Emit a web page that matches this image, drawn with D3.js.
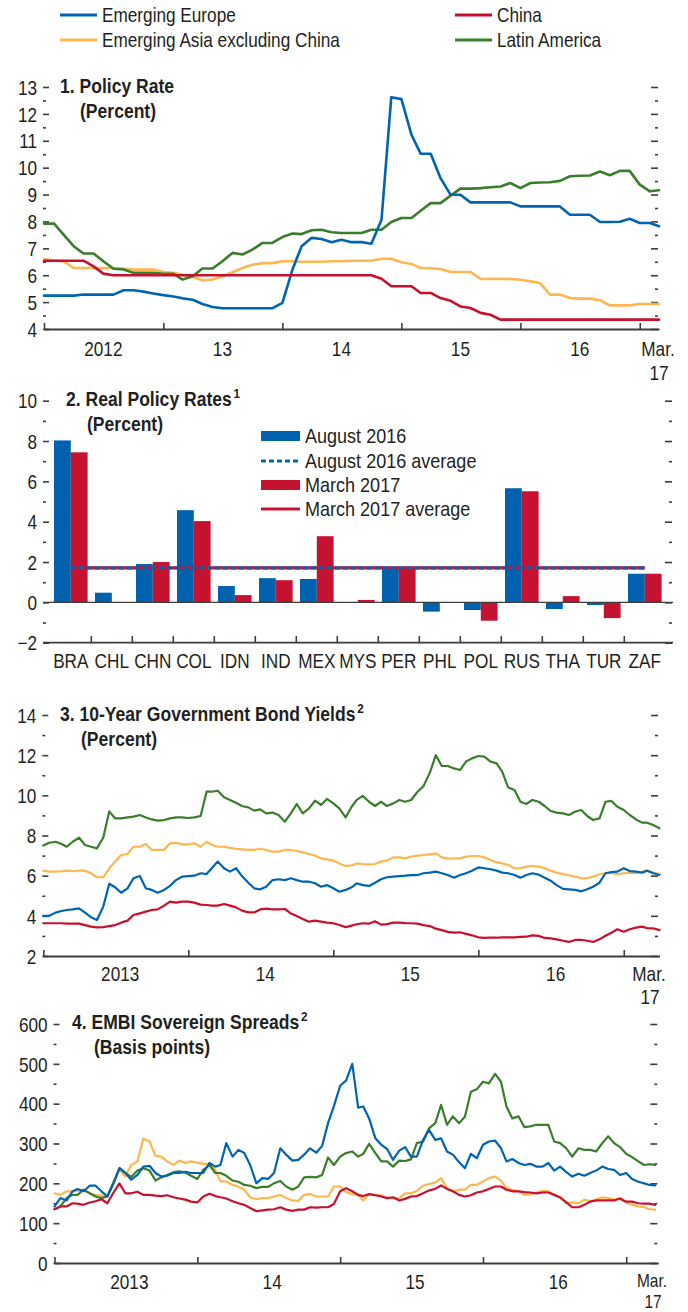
<!DOCTYPE html>
<html><head><meta charset="utf-8">
<script src="https://cdn.jsdelivr.net/npm/d3@7"></script>
<style>
body{margin:0;background:#fff;}
svg text{font-family:"Liberation Sans Narrow","Arial Narrow","Liberation Sans",Arial,sans-serif;fill:#231f20;}
</style></head><body>
<svg id="c" width="688" height="1312"></svg>
<script>
// ---------------- DATA ----------------
const seriesNames = ["Emerging Europe","Emerging Asia excluding China","China","Latin America"];

// Panel 1: Policy rate, monthly Jan 2012 - Mar 2017 (percent)
const p1Europe = [5.24,5.24,5.24,5.24,5.28,5.28,5.28,5.28,5.44,5.44,5.39,5.32,5.26,5.21,5.14,5.09,4.93,4.82,4.77,4.77,4.77,4.77,4.77,4.77,4.97,6.21,7.08,7.39,7.35,7.23,7.32,7.23,7.23,7.17,8.06,12.62,12.55,11.22,10.52,10.52,9.61,8.99,8.99,8.71,8.71,8.71,8.71,8.71,8.56,8.56,8.56,8.56,8.56,8.25,8.25,8.25,7.98,7.98,7.99,8.1,7.94,7.94,7.82];
const p1Asia = [6.6,6.55,6.52,6.27,6.27,6.27,6.27,6.27,6.25,6.21,6.21,6.21,6.12,6.09,6.02,5.93,5.81,5.84,5.96,6.11,6.27,6.39,6.45,6.45,6.52,6.52,6.5,6.5,6.5,6.52,6.52,6.54,6.54,6.54,6.61,6.61,6.48,6.42,6.27,6.26,6.23,6.12,6.12,6.12,5.86,5.86,5.86,5.86,5.83,5.77,5.71,5.28,5.28,5.15,5.13,5.13,5.07,4.88,4.88,4.88,4.93,4.93,4.93];
const p1China = [6.54,6.54,6.54,6.54,6.54,6.33,6.06,6.0,6.0,6.0,6.0,6.0,6.0,6.0,6.0,6.0,6.0,6.0,6.0,6.0,6.0,6.0,6.0,6.0,6.0,6.0,6.0,6.0,6.0,6.0,6.0,6.0,6.0,6.0,5.87,5.59,5.59,5.59,5.34,5.34,5.15,5.05,4.84,4.78,4.6,4.53,4.35,4.35,4.35,4.35,4.35,4.35,4.35,4.35,4.35,4.35,4.35,4.35,4.35,4.35,4.35,4.35,4.35];
const p1Latam = [7.92,7.92,7.51,7.08,6.81,6.81,6.52,6.24,6.21,6.09,6.09,6.09,6.05,6.05,5.84,5.96,6.25,6.25,6.52,6.83,6.77,6.95,7.2,7.2,7.42,7.55,7.53,7.67,7.69,7.6,7.57,7.57,7.57,7.69,7.69,7.98,8.13,8.13,8.4,8.68,8.68,8.96,9.22,9.22,9.24,9.27,9.3,9.43,9.24,9.43,9.45,9.46,9.51,9.68,9.7,9.71,9.86,9.72,9.88,9.88,9.37,9.12,9.16];
const p1YearLabels = ["2012","13","14","15","16"];

// Panel 2: Real policy rates (percent)
const p2Categories = ["BRA","CHL","CHN","COL","IDN","IND","MEX","MYS","PER","PHL","POL","RUS","THA","TUR","ZAF"];
const p2Aug2016 = [8.03,0.48,1.9,4.57,0.81,1.2,1.16,0.0,1.75,-0.46,-0.38,5.66,-0.33,-0.13,1.42];
const p2Mar2017 = [7.44,0.0,2.0,4.03,0.36,1.1,3.28,0.12,1.72,0.0,-0.91,5.51,0.31,-0.78,1.42];
const p2Legend = ["August 2016","August 2016 average","March 2017","March 2017 average"];

// Panel 3: 10-year government bond yields, semi-monthly from Jan 2013 (percent)
const p3Europe = [4.0,4.0,4.16,4.24,4.29,4.32,4.37,4.16,3.93,3.79,4.46,5.6,5.42,5.15,5.37,5.87,5.98,5.37,5.29,5.15,5.29,5.49,5.78,5.95,5.98,6.0,6.12,6.08,6.37,6.7,6.37,6.2,6.37,5.98,5.65,5.37,5.32,5.45,5.78,5.82,5.78,5.87,5.78,5.7,5.7,5.62,5.45,5.53,5.37,5.2,5.29,5.42,5.62,5.53,5.49,5.65,5.82,5.92,5.95,5.98,6.0,6.03,6.03,6.12,6.15,6.2,6.12,6.03,5.9,6.03,6.12,6.25,6.41,6.37,6.32,6.25,6.15,6.12,6.03,5.9,6.03,6.12,6.05,5.9,5.75,5.53,5.34,5.32,5.29,5.22,5.32,5.45,5.65,6.12,6.18,6.2,6.37,6.23,6.2,6.15,6.25,6.12,6.03];
const p3Asia = [6.25,6.2,6.2,6.22,6.25,6.22,6.25,6.25,6.12,5.92,5.92,6.37,6.7,7.03,7.08,7.44,7.44,7.58,7.28,7.28,7.28,7.61,7.64,7.56,7.56,7.61,7.44,7.69,7.53,7.44,7.44,7.38,7.34,7.31,7.28,7.28,7.34,7.28,7.2,7.2,7.28,7.28,7.23,7.16,7.08,7.0,6.86,6.81,6.75,6.61,6.48,6.51,6.61,6.58,6.56,6.58,6.7,6.75,6.91,6.91,6.86,6.95,7.0,7.03,7.06,7.11,6.91,6.85,6.86,6.86,6.95,6.98,6.98,6.91,6.78,6.66,6.61,6.53,6.37,6.37,6.45,6.48,6.45,6.37,6.25,6.15,6.08,6.02,5.95,5.87,5.87,5.95,6.07,6.12,6.12,6.08,6.12,6.15,6.12,6.2,6.25,6.15,6.08];
const p3China = [3.63,3.63,3.63,3.63,3.61,3.61,3.61,3.54,3.46,3.43,3.44,3.49,3.54,3.66,3.76,4.04,4.12,4.21,4.29,4.32,4.51,4.71,4.66,4.71,4.71,4.66,4.56,4.54,4.51,4.51,4.59,4.51,4.42,4.26,4.17,4.17,4.32,4.36,4.32,4.32,4.34,4.12,3.99,3.84,3.71,3.76,3.71,3.66,3.63,3.54,3.44,3.51,3.58,3.63,3.61,3.73,3.56,3.59,3.66,3.66,3.64,3.63,3.61,3.54,3.49,3.36,3.29,3.2,3.16,3.18,3.1,3.03,2.93,2.9,2.91,2.91,2.93,2.93,2.93,2.95,2.96,3.03,3.0,2.9,2.88,2.83,2.76,2.7,2.8,2.81,2.76,2.7,2.83,3.01,3.16,3.33,3.21,3.33,3.41,3.46,3.39,3.38,3.29];
const p3Latam = [7.5,7.64,7.69,7.58,7.44,7.69,7.89,7.53,7.44,7.36,7.9,9.2,8.85,8.85,8.9,8.94,9.02,8.9,8.8,8.74,8.77,8.85,8.9,8.9,8.87,8.9,8.97,10.18,10.18,10.23,9.9,9.77,9.63,9.47,9.4,9.24,9.3,9.1,9.14,9.02,8.69,9.1,9.57,9.1,9.35,9.73,9.52,9.82,9.6,9.35,8.9,9.43,9.77,9.97,9.68,9.47,9.68,9.47,9.6,9.77,9.68,9.77,10.18,10.46,11.13,12.0,11.46,11.46,11.34,11.26,11.68,11.84,11.96,11.93,11.68,11.59,11.18,10.4,10.27,9.68,9.57,9.77,9.68,9.47,9.22,9.14,9.1,9.02,9.19,9.27,8.97,8.77,8.85,9.68,9.72,9.43,9.27,9.02,8.8,8.64,8.64,8.52,8.36];
const p3YearLabels = ["2013","14","15","16"];

// Panel 4: EMBI sovereign spreads, semi-monthly from Jan 2013 (basis points)
const p4Europe = [142,163,157,180,186,180,194,194,180,167,200,238,226,209,221,242,244,226,217,219,226,226,229,226,226,226,251,242,246,301,267,284,276,246,200,213,211,226,288,272,257,259,272,288,277,294,351,394,445,458,500,390,393,363,313,297,286,259,282,291,267,267,309,334,309,313,280,272,253,238,274,263,297,305,307,288,255,261,251,246,249,242,242,251,232,242,228,217,224,219,226,232,242,236,234,221,226,211,204,200,196,195];
const p4Asia = [175,171,180,180,181,184,175,171,169,167,205,234,217,246,255,312,305,269,267,255,246,257,251,255,252,249,249,234,205,205,196,192,184,165,160,163,163,167,171,163,157,156,171,173,167,167,167,192,192,178,173,171,157,173,171,170,163,163,163,175,175,181,194,198,202,213,188,180,184,184,196,196,205,213,217,207,188,184,180,171,173,177,181,180,171,163,150,152,150,159,155,160,165,163,159,162,152,146,142,140,135,134];
const p4China = [135,142,142,150,149,146,152,155,160,150,177,200,175,175,179,171,171,169,168,170,165,162,159,154,152,167,174,168,165,162,155,150,146,138,130,132,134,135,140,134,131,134,134,140,139,140,140,148,180,188,180,171,168,173,170,167,163,165,157,161,167,168,175,182,186,195,186,180,171,167,170,177,180,186,192,192,184,180,180,178,177,175,177,177,171,165,152,140,140,146,154,157,157,157,157,162,154,154,150,149,149,146];
const p4Latam = [135,142,163,171,171,184,175,167,163,167,202,238,226,216,232,238,232,207,215,221,228,230,227,219,211,234,246,226,226,219,207,204,196,194,188,191,191,200,206,192,184,192,215,216,215,221,265,246,267,276,280,267,274,299,276,255,255,242,257,256,260,301,305,338,351,397,347,368,351,368,430,436,455,451,475,455,393,363,368,341,343,347,347,347,305,301,288,267,288,284,284,280,301,318,301,291,274,266,255,246,248,246];
const p4YearLabels = ["2013","14","15","16"];

// ---------------- STYLE ----------------
const COL = {eu:"#0064b1", asia:"#fdb750", china:"#c8102e", latam:"#3a7d2c"};
const BAR = {aug:"#0062ae", mar:"#c41230"};
const AX = "#3d3d3d";
const SX = 0.86;           // horizontal condensing of the sans font
const FS = 19.5;
const svg = d3.select("#c");

function T(x, y, str, o={}){
  const t = svg.append("text")
    .attr("transform",`translate(${x},${y}) scale(${o.sx||SX},1)`)
    .attr("font-size",o.size||FS)
    .attr("text-anchor",o.anchor||"start");
  if (o.weight) t.attr("font-weight",o.weight);
  if (o.dy) t.attr("dy",o.dy);
  if (str !== null) t.text(str);
  return t;
}

// Legend
const legend = [
  {name:seriesNames[0], c:COL.eu, x:60, y:15},
  {name:seriesNames[1], c:COL.asia, x:60, y:40},
  {name:seriesNames[2], c:COL.china, x:455, y:15},
  {name:seriesNames[3], c:COL.latam, x:455, y:40}];
legend.forEach(d=>{
  svg.append("line").attr("x1",d.x).attr("x2",d.x+37).attr("y1",d.y).attr("y2",d.y)
    .attr("stroke",d.c).attr("stroke-width",3);
  T(d.x+42, d.y, d.name, {dy:"0.36em", size:20});
});

function title(x, y, main, sup, sub, subx){
  const t = T(x, y, null, {weight:"bold", size:19.5, sx:0.9});
  t.append("tspan").text(main);
  if (sup) t.append("tspan").attr("font-size",13).attr("dy",-8).attr("dx",2).text(sup);
  T(subx, y+25, sub, {weight:"bold", size:19.5, sx:0.9});
}

function yAxes(y, xL, xR, majors, minors, fmt){
  const gl = svg.append("g").attr("transform",`translate(${xL},0)`)
    .call(d3.axisLeft(y).tickValues(majors).tickSizeInner(-6).tickSizeOuter(0).tickPadding(7).tickFormat(fmt));
  const gm = svg.append("g").attr("transform",`translate(${xL},0)`)
    .call(d3.axisLeft(y).tickValues(minors).tickSizeInner(-3).tickSizeOuter(0).tickFormat(""));
  const gr = svg.append("g").attr("transform",`translate(${xR},0)`)
    .call(d3.axisRight(y).tickValues(majors).tickSizeInner(-7).tickSizeOuter(0).tickFormat(""));
  const grm = svg.append("g").attr("transform",`translate(${xR},0)`)
    .call(d3.axisRight(y).tickValues(minors).tickSizeInner(-3).tickSizeOuter(0).tickFormat(""));
  [gl,gm,gr,grm].forEach(g=>{
    g.select(".domain").remove();
    g.selectAll(".tick line").attr("stroke",AX).attr("stroke-width",1.6).attr("transform","translate(-1,0)");
    g.attr("font-family",null).attr("font-size",null);
  });
  gl.selectAll(".tick text").attr("font-size",FS+0.5).attr("fill","#231f20")
    .attr("x",-8).attr("dy","0.36em").attr("transform",`scale(${SX},1)`);
}

function xAxis(x, yPos, yearDates){
  const g = svg.append("g").attr("transform",`translate(0,${yPos})`)
    .call(d3.axisBottom(x).tickValues(yearDates).tickSizeInner(-6).tickSizeOuter(0).tickFormat(""));
  g.select(".domain").attr("stroke",AX).attr("stroke-width",1.8);
  g.selectAll(".tick line").attr("stroke",AX).attr("stroke-width",1.6);
}

function lines(x, y, dates, series, w){
  const gen = d3.line().x((d,i)=>x(dates[i])).y(d=>y(d)).curve(d3.curveLinear);
  series.forEach(s=>{
    svg.append("path").datum(s.v).attr("d",gen).attr("fill","none")
      .attr("stroke",s.c).attr("stroke-width",w).attr("stroke-linejoin","round").attr("stroke-linecap","round");
  });
}

function xLabels(x, yBase, labels, years, off, marX, marY2, marY1, marSize){
  labels.forEach((l,i)=>T(x(new Date(years[i],6,1))+off, yBase, l, {anchor:"middle", size:FS+0.5}));
  T(marX, marY1||yBase, "Mar.", {anchor:"middle", size:marSize||FS+0.5});
  T(marX+1, marY2, "17", {anchor:"middle", size:marSize||FS+0.5});
}

const fmtNum = d => d < 0 ? "\u2212" + Math.abs(d) : String(d);

// ---------------- PANEL 1 ----------------
(function(){
  const dates = d3.timeMonth.range(new Date(2012,0,1), new Date(2017,3,1));
  const x = d3.scaleTime().domain([new Date(2012,0,1), new Date(2017,2,1)]).range([44,659]);
  const y = d3.scaleLinear().domain([4,13]).range([329,87]);
  yAxes(y, 44, 659, d3.range(4,14), d3.range(4.5,13,1), fmtNum);
  xAxis(x, 329, d3.timeYear.range(new Date(2012,0,1), new Date(2017,1,1)));
  lines(x, y, dates, [{v:p1Asia,c:COL.asia},{v:p1Latam,c:COL.latam},{v:p1Europe,c:COL.eu},{v:p1China,c:COL.china}], 2.6);
  xLabels(x, 356, p1YearLabels, [2012,2013,2014,2015,2016], 0, 658, 380);
  title(60, 93, "1. Policy Rate", null, "(Percent)", 80);
})();

// ---------------- PANEL 2 ----------------
(function(){
  const x0 = d3.scaleBand().domain(p2Categories).range([50.3,665.3]).paddingInner(0.18).paddingOuter(0.09);
  const x1 = d3.scaleBand().domain(["aug","mar"]).range([0,x0.bandwidth()]);
  const y = d3.scaleLinear().domain([-2,10]).range([642.7,400.7]);
  yAxes(y, 44, 673, d3.range(-2,11,2), d3.range(-1,10,2), fmtNum);
  const data = p2Categories.map((c,i)=>({c, aug:p2Aug2016[i], mar:p2Mar2017[i]}));
  const g = svg.append("g");
  data.forEach(d=>{
    [["aug",BAR.aug],["mar",BAR.mar]].forEach(([k,col])=>{
      const v = d[k];
      g.append("rect").attr("x",x0(d.c)+x1(k)).attr("width",x1.bandwidth())
        .attr("y",y(Math.max(0,v))).attr("height",Math.abs(y(v)-y(0))).attr("fill",col);
    });
  });
  svg.append("line").attr("x1",43).attr("x2",673).attr("y1",y(0)).attr("y2",y(0)).attr("stroke",AX).attr("stroke-width",1.2);
  const avgAug = d3.mean(p2Aug2016), avgMar = d3.mean(p2Mar2017);
  const xa = x0(p2Categories[0])+x0.bandwidth()/2, xb = x0(p2Categories[p2Categories.length-1])+x0.bandwidth()/2;
  svg.append("line").attr("x1",xa).attr("x2",xb).attr("y1",y(avgMar)).attr("y2",y(avgMar)).attr("stroke",BAR.mar).attr("stroke-width",3.2);
  svg.append("line").attr("x1",xa).attr("x2",xb).attr("y1",y(avgAug)).attr("y2",y(avgAug)).attr("stroke",COL.eu).attr("stroke-width",3.2).attr("stroke-dasharray","5,3");
  svg.append("line").attr("x1",43).attr("x2",673).attr("y1",642.7).attr("y2",642.7).attr("stroke",AX).attr("stroke-width",1.8);
  const step = x0.step();
  p2Categories.slice(1).forEach(c=>{
    const bx = x0(c) - step*x0.paddingInner()/2;
    svg.append("line").attr("x1",bx).attr("x2",bx).attr("y1",642.7).attr("y2",636).attr("stroke",AX).attr("stroke-width",1.6);
  });
  p2Categories.forEach(c=>T(x0(c)+x0.bandwidth()/2, 668, c, {anchor:"middle", size:FS+0.5}));
  const lx = 261, ys = [436, 461, 485, 509];
  svg.append("rect").attr("x",lx).attr("y",ys[0]-5).attr("width",39).attr("height",10).attr("fill",BAR.aug);
  svg.append("line").attr("x1",lx).attr("x2",lx+39).attr("y1",ys[1]).attr("y2",ys[1]).attr("stroke",COL.eu).attr("stroke-width",3.2).attr("stroke-dasharray","5,3");
  svg.append("rect").attr("x",lx).attr("y",ys[2]-5).attr("width",39).attr("height",10).attr("fill",BAR.mar);
  svg.append("line").attr("x1",lx).attr("x2",lx+39).attr("y1",ys[3]).attr("y2",ys[3]).attr("stroke",BAR.mar).attr("stroke-width",3);
  p2Legend.forEach((t,i)=>T(lx+44, ys[i], t, {dy:"0.36em", size:20.5, sx:0.88}));
  title(66, 406, "2. Real Policy Rates", "1", "(Percent)", 87);
})();

// ---------------- PANEL 3 ----------------
function semiMonthly(n){ const a=[]; for(let k=0;k<n;k++) a.push(new Date(2013, Math.floor(k/2), k%2?16:1)); return a; }
(function(){
  const dates = semiMonthly(p3Latam.length);
  const x = d3.scaleTime().domain([new Date(2013,0,1), new Date(2017,3,1)]).range([43.3,659.5]);
  const y = d3.scaleLinear().domain([2,14]).range([956,715]);
  yAxes(y, 43.3, 659, d3.range(2,15,2), d3.range(3,14,2), fmtNum);
  xAxis(x, 956, d3.timeYear.range(new Date(2013,0,1), new Date(2017,1,1)));
  lines(x, y, dates, [{v:p3Asia,c:COL.asia},{v:p3Latam,c:COL.latam},{v:p3Europe,c:COL.eu},{v:p3China,c:COL.china}], 2.2);
  xLabels(x, 981, p3YearLabels, [2013,2014,2015,2016], 5, 649, 1004);
  title(60, 721, "3. 10-Year Government Bond Yields", "2", "(Percent)", 81);
})();

// ---------------- PANEL 4 ----------------
(function(){
  const dates = semiMonthly(p4Latam.length);
  const x = d3.scaleTime().domain([new Date(2013,0,1), new Date(2017,2,24)]).range([54.5,658.3]);
  const y = d3.scaleLinear().domain([0,600]).range([1263,1024]);
  yAxes(y, 54.5, 658.3, d3.range(0,601,100), d3.range(50,600,100), fmtNum);
  xAxis(x, 1263, d3.timeYear.range(new Date(2013,0,1), new Date(2017,1,1)));
  lines(x, y, dates, [{v:p4Asia,c:COL.asia},{v:p4Latam,c:COL.latam},{v:p4Europe,c:COL.eu},{v:p4China,c:COL.china}], 2.2);
  xLabels(x, 1289, p4YearLabels, [2013,2014,2015,2016], 4, 652, 1308, 1287, 18);
  title(72, 1029, "4. EMBI Sovereign Spreads", "2", "(Basis points)", 94);
})();
</script></body></html>
